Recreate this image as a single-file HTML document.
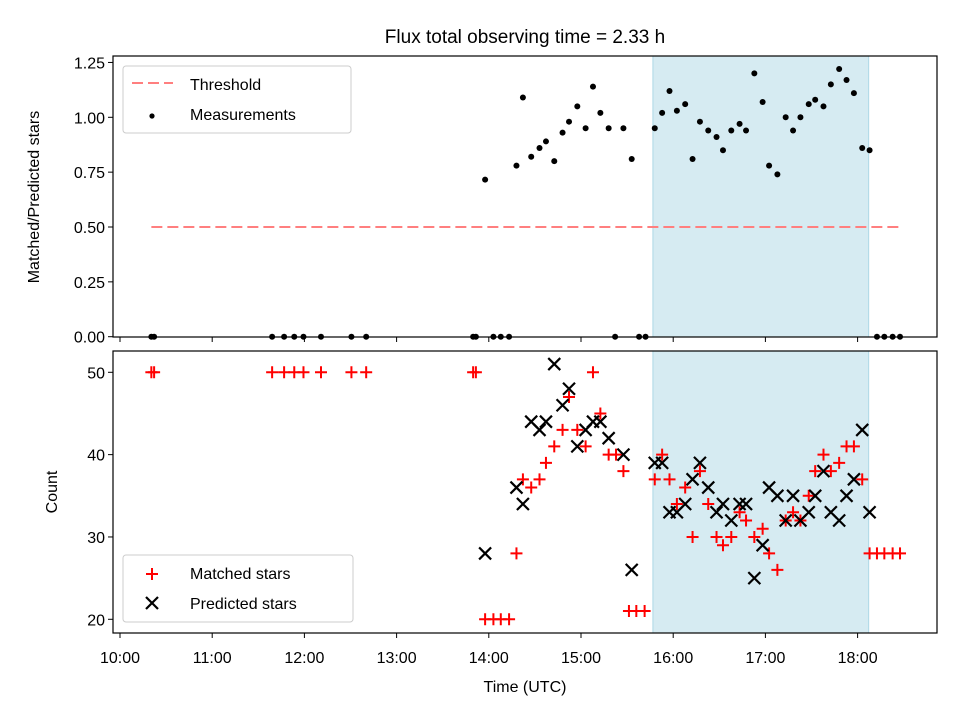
<!DOCTYPE html>
<html><head><meta charset="utf-8"><style>
body{margin:0;background:#fff}
svg{display:block;font-family:"Liberation Sans","DejaVu Sans",sans-serif}
</style></head><body>
<svg id="chart" width="960" height="720" viewBox="0 0 960 720" xmlns="http://www.w3.org/2000/svg">
<rect width="960" height="720" fill="#fff"/>
<text x="525" y="43" font-size="19" text-anchor="middle">Flux total observing time = 2.33 h</text>
<g id="topPanel"></g><g id="botPanel"></g>
</svg>
<script>
// ----- data -----
const ratioTimes=[10.34,10.37,11.65,11.78,11.89,11.99,12.18,12.51,12.67,13.83,13.86,13.96,14.05,14.13,14.22,14.30,14.37,14.46,14.55,14.62,14.71,14.80,14.87,14.96,15.05,15.13,15.21,15.30,15.37,15.46,15.55,15.63,15.70,15.80,15.88,15.96,16.04,16.13,16.21,16.29,16.38,16.47,16.54,16.63,16.72,16.79,16.88,16.97,17.04,17.13,17.22,17.30,17.38,17.47,17.54,17.63,17.71,17.80,17.88,17.96,18.05,18.13,18.21,18.29,18.38,18.46];
const ratioValues=[0,0,0,0,0,0,0,0,0,0,0,0.716,0,0,0,0.78,1.09,0.82,0.86,0.89,0.80,0.93,0.98,1.05,0.95,1.14,1.02,0.95,0,0.95,0.81,0,0,0.95,1.02,1.12,1.03,1.06,0.81,0.98,0.94,0.91,0.85,0.94,0.97,0.94,1.20,1.07,0.78,0.74,1.00,0.94,1.00,1.06,1.08,1.05,1.15,1.22,1.17,1.11,0.86,0.85,0,0,0,0];
const threshold=0.5, thresholdRange=[10.34,18.46];
const matchedTimes=[10.34,10.37,11.65,11.78,11.89,11.99,12.18,12.51,12.67,13.83,13.86,13.96,14.05,14.13,14.22,14.30,14.37,14.46,14.55,14.62,14.71,14.80,14.87,14.96,15.05,15.13,15.21,15.30,15.38,15.46,15.52,15.60,15.69,15.80,15.88,15.96,16.04,16.13,16.21,16.29,16.38,16.47,16.54,16.63,16.72,16.79,16.88,16.97,17.04,17.13,17.22,17.30,17.38,17.47,17.54,17.63,17.71,17.80,17.88,17.96,18.05,18.13,18.21,18.29,18.38,18.46];
const matchedValues=[50,50,50,50,50,50,50,50,50,50,50,20,20,20,20,28,37,36,37,39,41,43,47,43,41,50,45,40,40,38,21,21,21,37,40,37,34,36,30,38,34,30,29,30,33,32,30,31,28,26,32,33,32,35,38,40,38,39,41,41,37,28,28,28,28,28];
const predictedTimes=[13.96,14.30,14.37,14.46,14.55,14.62,14.71,14.80,14.87,14.96,15.05,15.13,15.21,15.30,15.46,15.55,15.80,15.88,15.96,16.04,16.13,16.21,16.29,16.38,16.47,16.54,16.63,16.72,16.79,16.88,16.97,17.04,17.13,17.22,17.30,17.38,17.47,17.54,17.63,17.71,17.80,17.88,17.96,18.05,18.13];
const predictedValues=[28,36,34,44,43,44,51,46,48,41,43,44,44,42,40,26,39,39,33,33,34,37,39,36,33,34,32,34,34,25,29,36,35,32,35,32,33,35,38,33,32,35,37,43,33];
const shadeRange=[15.78,18.12];
const xTickHours=[10,11,12,13,14,15,16,17,18];
const topTicks=[0,0.25,0.5,0.75,1.0,1.25];
const botTicks=[20,30,40,50];

// ----- scales -----
const X0=113,X1=937;
const xs=t=>120+(t-10)*92.2;
const TB={top:56,bot:337}, BB={top:351,bot:633};
const ys1=v=>336.7-v*219.4;
const ys2=v=>372.3+(50-v)*8.233;
const NS='http://www.w3.org/2000/svg';
function mk(tag,attrs,parent,txt){const e=document.createElementNS(NS,tag);for(const k in attrs)e.setAttribute(k,attrs[k]);if(txt!==undefined)e.textContent=txt;parent.appendChild(e);return e;}
const gTop=document.getElementById('topPanel'), gBot=document.getElementById('botPanel');

function axesFrame(g,box,ticks,ys,fmt){
  for(const v of ticks){
    const y=ys(v);
    const tk=mk('line',{x1:X0-5,x2:X0,y1:y,y2:y,stroke:'#000','stroke-width':1},g);
    
    
    const tl=mk('text',{x:X0-8,y:y+6,'font-size':16,'text-anchor':'end'},g,fmt(v));
    
    
  }
  for(const h of xTickHours){
    const x=xs(h);
    const tk=mk('line',{x1:x,x2:x,y1:box.bot,y2:box.bot+5,stroke:'#000','stroke-width':1},g);
    
    
  }
}
function frame(g,box){
  const r=mk('rect',{x:X0,y:box.top,width:X1-X0,height:box.bot-box.top,fill:'none',stroke:'#000','stroke-width':1.2},g);
  
  
}
function shade(g,box){
  const s=mk('rect',{x:xs(shadeRange[0]),y:box.top,width:xs(shadeRange[1])-xs(shadeRange[0]),height:box.bot-box.top,fill:'#add8e6','fill-opacity':0.5,stroke:'#add8e6','stroke-width':1},g);
  
  
}
// ----- top panel -----
shade(gTop,TB);
const th=mk('line',{x1:xs(thresholdRange[0]),x2:xs(thresholdRange[1]),y1:ys1(threshold),y2:ys1(threshold),stroke:'#ff7f7f','stroke-width':2,'stroke-dasharray':'11,5'},gTop);


ratioTimes.forEach((t,i)=>{
  const c=mk('circle',{cx:xs(t),cy:ys1(ratioValues[i]),r:3,fill:'#000'},gTop);
  
  
});
axesFrame(gTop,TB,topTicks,ys1,v=>v.toFixed(2));
frame(gTop,TB);
const yl1=mk('text',{x:39,y:197,'font-size':16,'text-anchor':'middle',transform:'rotate(-90 39 197)'},gTop,'Matched/Predicted stars');


const lg1=mk('g',{},gTop);


mk('rect',{x:123,y:66,width:228,height:67,rx:3,fill:'#fff','fill-opacity':0.8,stroke:'#ccc'},lg1);
mk('line',{x1:132,x2:173,y1:83,y2:83,stroke:'#ff7f7f','stroke-width':2,'stroke-dasharray':'11,5'},lg1);
mk('text',{x:190,y:90,'font-size':16},lg1,'Threshold');
mk('circle',{cx:152,cy:116,r:2.6,fill:'#000'},lg1);
mk('text',{x:190,y:120,'font-size':16},lg1,'Measurements');
// ----- bottom panel -----
shade(gBot,BB);
matchedTimes.forEach((t,i)=>{
  const x=xs(t),y=ys2(matchedValues[i]);
  const p=mk('path',{d:`M${x-6},${y}H${x+6}M${x},${y-6}V${y+6}`,stroke:'#f00','stroke-width':2,fill:'none'},gBot);
  
  
});
predictedTimes.forEach((t,i)=>{
  const x=xs(t),y=ys2(predictedValues[i]);
  const p=mk('path',{d:`M${x-6},${y-6}L${x+6},${y+6}M${x-6},${y+6}L${x+6},${y-6}`,stroke:'#000','stroke-width':2.2,fill:'none'},gBot);
  
  
});
axesFrame(gBot,BB,botTicks,ys2,v=>String(v));
frame(gBot,BB);
xTickHours.forEach(h=>{
  const l=mk('text',{x:xs(h),y:663,'font-size':16,'text-anchor':'middle'},gBot,(h<10?'0':'')+h+':00');
  
  
});
const xl=mk('text',{x:525,y:692,'font-size':16,'text-anchor':'middle'},gBot,'Time (UTC)');


const yl2=mk('text',{x:57,y:492,'font-size':16,'text-anchor':'middle',transform:'rotate(-90 57 492)'},gBot,'Count');


const lg2=mk('g',{},gBot);


mk('rect',{x:123,y:555,width:230,height:67,rx:3,fill:'#fff','fill-opacity':0.8,stroke:'#ccc'},lg2);
mk('path',{d:'M146,574H158M152,568V580',stroke:'#f00','stroke-width':2},lg2);
mk('text',{x:190,y:579,'font-size':16},lg2,'Matched stars');
mk('path',{d:'M146,597L158,609M146,609L158,597',stroke:'#000','stroke-width':2.2},lg2);
mk('text',{x:190,y:609,'font-size':16},lg2,'Predicted stars');
</script>
</body></html>
